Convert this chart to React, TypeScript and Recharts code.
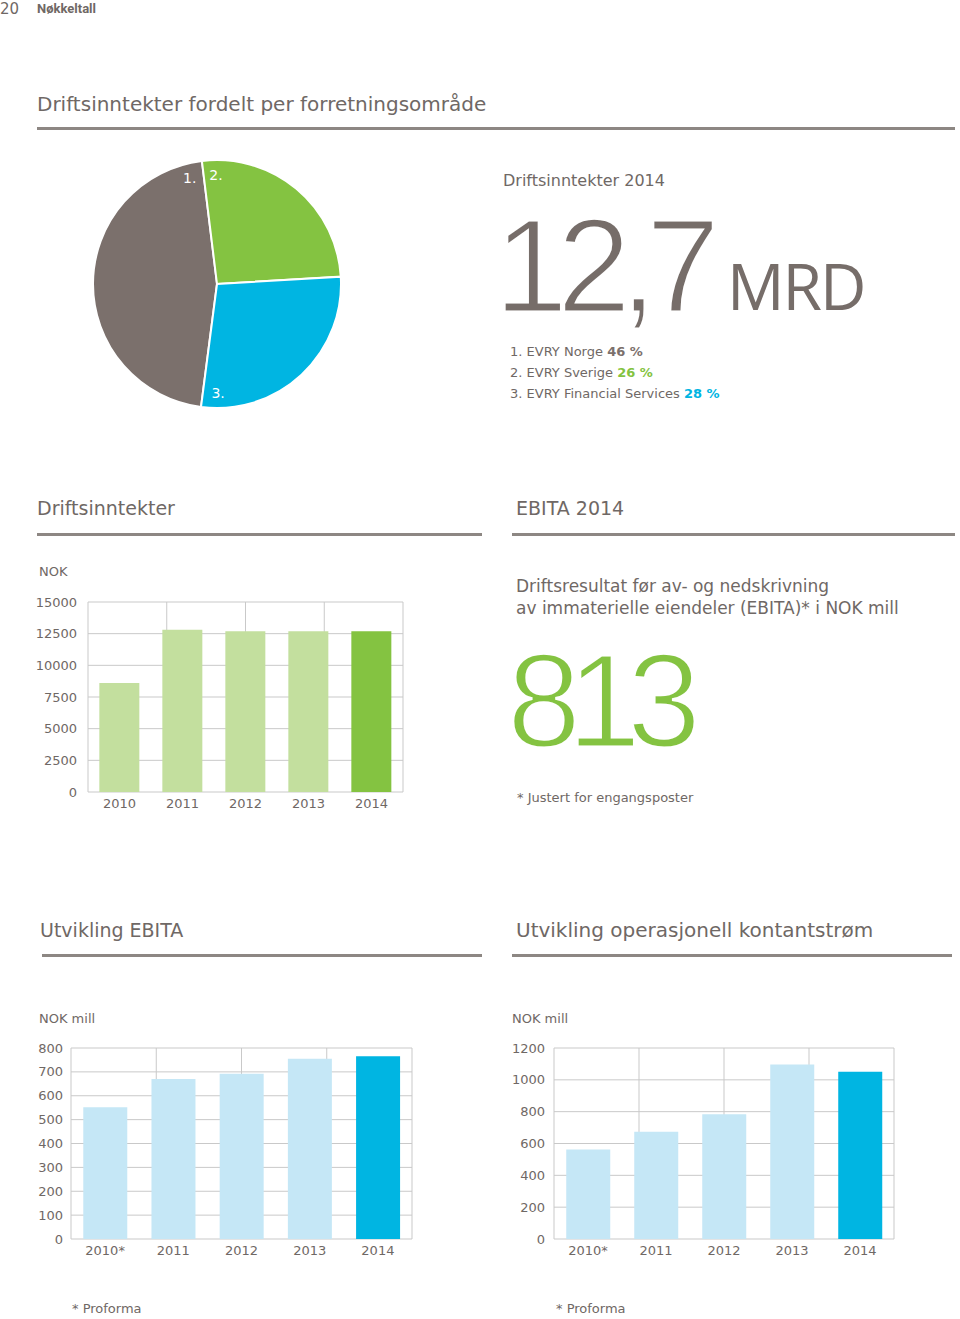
import React from 'react';
import { BarChart, Bar, XAxis, YAxis, CartesianGrid, Cell, PieChart, Pie } from 'recharts';

const pieNames = ['EVRY Norge', 'EVRY Sverige', 'EVRY Financial Services'];
const pieShares = [46, 26, 28];
const pieLabels = ['1.', '2.', '3.'];

const revenueYears = ['2010', '2011', '2012', '2013', '2014'];
const revenueValues = [8600, 12800, 12700, 12700, 12700];
const revenueTicks = [0, 2500, 5000, 7500, 10000, 12500, 15000];

const ebitaYears = ['2010*', '2011', '2012', '2013', '2014'];
const ebitaValues = [552, 670, 692, 755, 765];
const ebitaTicks = [0, 100, 200, 300, 400, 500, 600, 700, 800];

const cashYears = ['2010*', '2011', '2012', '2013', '2014'];
const cashValues = [563, 674, 784, 1097, 1051];
const cashTicks = [0, 200, 400, 600, 800, 1000, 1200];

const TEXT = '#6f6865';
const RULE = '#8d8783';
const GRID = '#c9c9c9';
const PIE_COLORS = ['#7b706c', '#84c341', '#00b5e2'];
const GREEN = '#84c341';
const LIGHT_GREEN = '#c3df9e';
const BLUE = '#00b5e2';
const LIGHT_BLUE = '#c5e7f6';
const FONT = '"DejaVu Sans", "Open Sans", sans-serif';
const BIG_FONT = '"Liberation Sans", Arial, sans-serif';
const MRD_FONT = '"Open Sans", sans-serif';

const pieData = pieNames.map((name, i) => ({ name, value: pieShares[i], label: pieLabels[i] }));
const revenueData = revenueYears.map((year, i) => ({ year, value: revenueValues[i] }));
const ebitaData = ebitaYears.map((year, i) => ({ year, value: ebitaValues[i] }));
const cashData = cashYears.map((year, i) => ({ year, value: cashValues[i] }));

const abs = (left: number, top: number, extra: React.CSSProperties = {}): React.CSSProperties => ({
  position: 'absolute',
  left,
  top,
  whiteSpace: 'nowrap',
  fontFamily: FONT,
  color: TEXT,
  lineHeight: 1,
  ...extra,
});

const thin: React.CSSProperties = { WebkitTextStroke: '3px #ffffff' } as React.CSSProperties;

const Rule = ({ left, top, width }: { left: number; top: number; width: number }) => (
  <div style={{ position: 'absolute', left, top, width, height: 3, background: RULE }} />
);

const RAD = Math.PI / 180;
const renderPieLabel = (props: any) => {
  const { cx, cy, startAngle, endAngle, index } = props;
  const angle = index === 0 ? endAngle + 7.5 : index === 1 ? startAngle - 6.5 : endAngle + 8;
  const r = 109;
  const x = cx + r * Math.cos(angle * RAD);
  const y = cy - r * Math.sin(angle * RAD);
  return (
    <text x={x} y={y} fill="#ffffff" fontSize={14} fontFamily={FONT} textAnchor="middle" dominantBaseline="central">
      {pieData[index].label}
    </text>
  );
};

type BarPanelProps = {
  data: { year: string; value: number }[];
  ticks: number[];
  light: string;
  strong: string;
  width: number;
  height: number;
  yWidth: number;
  margin: { top: number; right: number; bottom: number; left: number };
  xHeight: number;
  yGap: number;
};

const BarPanel = ({ data, ticks, light, strong, width, height, yWidth, margin, xHeight, yGap }: BarPanelProps) => (
  <BarChart width={width} height={height} data={data} margin={margin} barCategoryGap="18%">
    <XAxis xAxisId="grid" type="number" domain={[0, data.length]} ticks={data.map((_, i) => i).concat([data.length])} hide />
    <CartesianGrid xAxisId="grid" stroke={GRID} strokeWidth={1} />
    <XAxis
      dataKey="year"
      height={xHeight}
      tickLine={false}
      axisLine={false}
      tickSize={0}
      tickMargin={7}
      interval={0}
      tick={{ fill: TEXT, fontSize: 13, fontFamily: FONT }}
    />
    <YAxis
      width={yWidth}
      domain={[ticks[0], ticks[ticks.length - 1]]}
      ticks={ticks}
      interval={0}
      tickLine={false}
      axisLine={false}
      tickSize={0}
      tickMargin={yGap}
      tick={{ fill: TEXT, fontSize: 13, fontFamily: FONT }}
    />
    <Bar dataKey="value" isAnimationActive={false}>
      {data.map((_, i) => (
        <Cell key={i} fill={i === data.length - 1 ? strong : light} />
      ))}
    </Bar>
  </BarChart>
);

export default function App() {
  return (
    <div style={{ position: 'absolute', left: 0, top: 0, width: 960, height: 1319, background: '#fff', overflow: 'hidden' }}>
      {/* header */}
      <div style={abs(0, 2, { fontSize: 15 })}>20</div>
      <div style={abs(37, 2, { fontSize: 13, fontWeight: 700, fontFamily: '"Liberation Sans Narrow", Roboto, sans-serif' })}>Nøkkeltall</div>

      <div style={abs(37, 94, { fontSize: 20 })}>Driftsinntekter fordelt per forretningsområde</div>
      <Rule left={37} top={127} width={918} />

      {/* pie */}
      <div style={{ position: 'absolute', left: 87, top: 154 }}>
        <PieChart width={260} height={260} margin={{ top: 0, right: 0, bottom: 0, left: 0 }}>
          <Pie
            data={pieData}
            dataKey="value"
            nameKey="name"
            cx="50%"
            cy="50%"
            outerRadius={124}
            startAngle={262.6}
            endAngle={-97.4}
            stroke="#ffffff"
            strokeWidth={2}
            label={renderPieLabel}
            labelLine={false}
            isAnimationActive={false}
          >
            {pieData.map((_, i) => (
              <Cell key={i} fill={PIE_COLORS[i]} />
            ))}
          </Pie>
        </PieChart>
      </div>

      <div style={abs(503, 173, { fontSize: 16 })}>Driftsinntekter 2014</div>
      <div style={abs(494, 200, { fontSize: 133, fontFamily: BIG_FONT, color: '#766d69', letterSpacing: -11, ...thin })}>12,7</div>
      <div style={abs(727, 254, { fontSize: 64, fontFamily: MRD_FONT, color: '#766d69', letterSpacing: -2 })}>MRD</div>

      <div style={abs(510, 345, { fontSize: 13 })}>
        1. {pieNames[0]} <b style={{ color: PIE_COLORS[0] }}>{pieShares[0]} %</b>
      </div>
      <div style={abs(510, 366, { fontSize: 13 })}>
        2. {pieNames[1]} <b style={{ color: PIE_COLORS[1] }}>{pieShares[1]} %</b>
      </div>
      <div style={abs(510, 387, { fontSize: 13 })}>
        3. {pieNames[2]} <b style={{ color: PIE_COLORS[2] }}>{pieShares[2]} %</b>
      </div>

      {/* section 2 */}
      <div style={abs(37, 499, { fontSize: 19 })}>Driftsinntekter</div>
      <div style={abs(516, 499, { fontSize: 19 })}>EBITA 2014</div>
      <Rule left={37} top={533} width={445} />
      <Rule left={512} top={533} width={443} />

      <div style={abs(39, 565, { fontSize: 13 })}>NOK</div>
      <div style={{ position: 'absolute', left: 30, top: 590 }}>
        <BarPanel
          data={revenueData}
          ticks={revenueTicks}
          light={LIGHT_GREEN}
          strong={GREEN}
          width={380}
          height={230}
          yWidth={40}
          margin={{ top: 12, right: 7, bottom: 0, left: 18 }}
          xHeight={28}
          yGap={11}
        />
      </div>

      <div style={abs(516, 578, { fontSize: 17 })}>Driftsresultat før av- og nedskrivning</div>
      <div style={abs(516, 600, { fontSize: 17 })}>av immaterielle eiendeler (EBITA)* i NOK mill</div>
      <div style={abs(507, 635, { fontSize: 133, fontFamily: BIG_FONT, color: GREEN, letterSpacing: -14, ...thin })}>813</div>
      <div style={abs(517, 791, { fontSize: 13 })}>* Justert for engangsposter</div>

      {/* section 3 */}
      <div style={abs(40, 921, { fontSize: 19 })}>Utvikling EBITA</div>
      <div style={abs(516, 920, { fontSize: 20 })}>Utvikling operasjonell kontantstrøm</div>
      <Rule left={42} top={954} width={440} />
      <Rule left={512} top={954} width={440} />

      <div style={abs(39, 1012, { fontSize: 13 })}>NOK mill</div>
      <div style={{ position: 'absolute', left: 30, top: 1036 }}>
        <BarPanel
          data={ebitaData}
          ticks={ebitaTicks}
          light={LIGHT_BLUE}
          strong={BLUE}
          width={390}
          height={230}
          yWidth={35}
          margin={{ top: 12, right: 8, bottom: 0, left: 6 }}
          xHeight={27}
          yGap={8}
        />
      </div>

      <div style={abs(512, 1012, { fontSize: 13 })}>NOK mill</div>
      <div style={{ position: 'absolute', left: 500, top: 1036 }}>
        <BarPanel
          data={cashData}
          ticks={cashTicks}
          light={LIGHT_BLUE}
          strong={BLUE}
          width={400}
          height={230}
          yWidth={45}
          margin={{ top: 12, right: 6, bottom: 0, left: 9 }}
          xHeight={27}
          yGap={9}
        />
      </div>

      <div style={abs(72, 1302, { fontSize: 13 })}>* Proforma</div>
      <div style={abs(556, 1302, { fontSize: 13 })}>* Proforma</div>
    </div>
  );
}
